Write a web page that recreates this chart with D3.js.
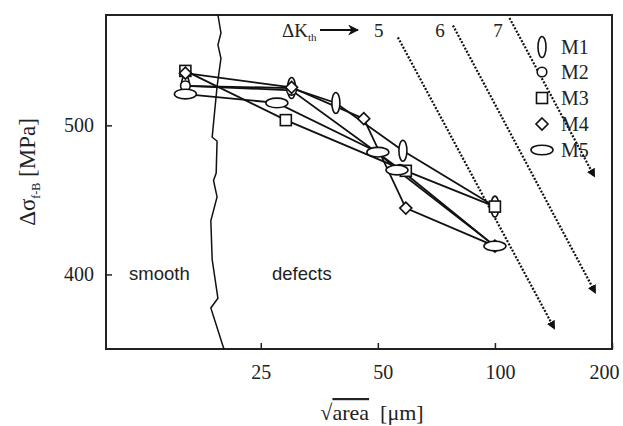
<!DOCTYPE html>
<html>
<head>
<meta charset="utf-8">
<script src="https://cdn.jsdelivr.net/npm/d3@7"></script>
<style>
	body { margin: 0; background: #fff; }
</style>
</head>
<body>
<div class="chart"></div>
<script>
// ---- data ----
var sizeTicks = [25, 50, 100, 200];
var stressTicks = [400, 500];
var seriesNames = ['M1', 'M2', 'M3', 'M4', 'M5'];
var seriesShapes = ['vell', 'circle', 'square', 'diamond', 'hell'];

var m1 = [[16, 526.5], [30, 525], [39, 515], [58, 483], [100, 445.5]];
var m2 = [[16, 526.5], [30, 523.5], [57, 470.5], [100, 419]];
var m3 = [[16, 536.5], [29, 503.5], [59, 469.5], [100, 445.5]];
var m4 = [[16, 535], [30, 525.5], [46, 504.5], [59, 444.5], [100, 419]];
var m5 = [[16, 521], [27.5, 515], [50, 482], [56, 470], [100, 419]];

// smooth / defects border
var boundary = [[19.4, 574], [19.75, 562], [19.4, 554], [19.75, 545], [19.3, 526], [18.75, 492],
	[19.3, 489.5], [19.2, 468], [18.9, 463], [19.3, 452], [18.6, 436], [18.75, 410],
	[19.4, 384], [18.6, 377.5], [20.1, 350]];

// threshold lines dK_th = 5, 6, 7
var kthLabels = ['5', '6', '7'];
var kthStart = [[56.3, 559], [78, 567], [109, 572]];
var kthEnd = [[142, 364], [181, 388], [180, 466]];
var kthLabelAt = [[50.3, 564], [72.2, 564], [101.8, 564]];

var drawChart = function(){
	var w = 623;
	var h = 426;
	var left = 106, right = 612, top = 15, bottom = 349;
	var serif = '"Liberation Serif", "Times New Roman", serif';
	var sans = '"Liberation Sans", Arial, sans-serif';
	var ink = '#111';

	var svg = d3.select('.chart').append('svg')
		.attr('width', w)
		.attr('height', h);

	var x = d3.scaleLog().domain([10, 200]).range([left, right]);
	var y = d3.scaleLinear().domain([350, 574]).range([bottom, top]);

	var defs = svg.append('defs');
	defs.append('marker')
		.attr('id', 'dotHead')
		.attr('viewBox', '0 0 10 10')
		.attr('refX', 8).attr('refY', 5)
		.attr('markerWidth', 4).attr('markerHeight', 4)
		.attr('markerUnits', 'strokeWidth')
		.attr('orient', 'auto')
		.append('path').attr('d', 'M0,0 L10,5 L0,10 Z').attr('fill', ink);
	defs.append('marker')
		.attr('id', 'kHead')
		.attr('viewBox', '0 0 10 10')
		.attr('refX', 9).attr('refY', 5)
		.attr('markerWidth', 5).attr('markerHeight', 5)
		.attr('markerUnits', 'strokeWidth')
		.attr('orient', 'auto')
		.append('path').attr('d', 'M0,0 L10,5 L0,10 L3,5 Z').attr('fill', ink);

	/*---------------------------AXES--------------------------*/

	svg.append('rect')
		.attr('x', left).attr('y', top)
		.attr('width', right - left).attr('height', bottom - top)
		.attr('fill', 'none')
		.attr('stroke', '#222')
		.attr('stroke-width', 2);

	var xAxis = svg.append('g')
		.attr('transform', 'translate(0,' + bottom + ')')
		.call(d3.axisBottom(x).tickValues(sizeTicks).tickSize(-6).tickPadding(16).tickFormat(d3.format('d')));
	xAxis.select('.domain').remove();
	xAxis.selectAll('line').attr('stroke', '#222').attr('stroke-width', 1.5);
	xAxis.selectAll('text').attr('font-family', serif).attr('font-size', 20).attr('fill', '#222')
		.attr('dx', function(d){ return d === 200 ? -8 : (d === 25 ? 0 : 5); });

	var yAxis = svg.append('g')
		.attr('transform', 'translate(' + left + ',0)')
		.call(d3.axisLeft(y).tickValues(stressTicks).tickSize(-6).tickPadding(12).tickFormat(d3.format('d')));
	yAxis.select('.domain').remove();
	yAxis.selectAll('line').attr('stroke', '#222').attr('stroke-width', 1.5);
	yAxis.selectAll('text').attr('font-family', serif).attr('font-size', 20).attr('fill', '#222');

	// axis titles
	var xt = svg.append('text')
		.attr('x', 372).attr('y', 420)
		.attr('text-anchor', 'middle')
		.attr('font-family', serif).attr('font-size', 22).attr('fill', '#222');
	xt.append('tspan').text('\u221A');
	xt.append('tspan').text('area').style('text-decoration', 'overline');
	xt.append('tspan').text('\u00A0 [\u03BCm]');

	var yt = svg.append('text')
		.attr('transform', 'translate(35,172) rotate(-90)')
		.attr('text-anchor', 'middle')
		.attr('font-family', serif).attr('font-size', 23).attr('fill', '#222');
	yt.append('tspan').text('\u0394\u03C3');
	yt.append('tspan').text('f-B').attr('font-size', 12).attr('dy', 5);
	yt.append('tspan').text(' [MPa]').attr('dy', -5);

	/*---------------------------REGIONS--------------------------*/

	var line = d3.line().x(function(d){ return x(d[0]); }).y(function(d){ return y(d[1]); });

	svg.append('path')
		.attr('d', line(boundary))
		.attr('fill', 'none')
		.attr('stroke', ink)
		.attr('stroke-width', 1.5);

	svg.append('text').attr('x', 129).attr('y', 280)
		.attr('font-family', sans).attr('font-size', 18.5).attr('fill', '#222')
		.text('smooth');
	svg.append('text').attr('x', 272).attr('y', 280)
		.attr('font-family', sans).attr('font-size', 18.5).attr('fill', '#222')
		.text('defects');

	/*---------------------------THRESHOLD LINES--------------------------*/

	svg.selectAll('.kth').data(kthLabels).enter()
		.append('line')
		.attr('class', 'kth')
		.attr('x1', function(d, i){ return x(kthStart[i][0]); })
		.attr('y1', function(d, i){ return y(kthStart[i][1]); })
		.attr('x2', function(d, i){ return x(kthEnd[i][0]); })
		.attr('y2', function(d, i){ return y(kthEnd[i][1]); })
		.attr('stroke', ink)
		.attr('stroke-width', 2.2)
		.attr('stroke-dasharray', '2,1.6')
		.attr('marker-end', 'url(#dotHead)');

	svg.selectAll('.kthLabel').data(kthLabels).enter()
		.append('text')
		.attr('class', 'kthLabel')
		.attr('x', function(d, i){ return x(kthLabelAt[i][0]); })
		.attr('y', function(d, i){ return y(kthLabelAt[i][1]) + 7; })
		.attr('text-anchor', 'middle')
		.attr('font-family', serif).attr('font-size', 19).attr('fill', '#222')
		.text(function(d){ return d; });

	var kt = svg.append('text')
		.attr('x', 282).attr('y', 37)
		.attr('font-family', serif).attr('font-size', 19).attr('fill', '#222');
	kt.append('tspan').text('\u0394K');
	kt.append('tspan').text('th').attr('font-size', 11).attr('dy', 4);

	svg.append('line')
		.attr('x1', 320).attr('y1', 30).attr('x2', 358).attr('y2', 30)
		.attr('stroke', ink).attr('stroke-width', 2.2)
		.attr('marker-end', 'url(#kHead)');

	/*---------------------------SERIES--------------------------*/

	var allSeries = [m1, m2, m3, m4, m5];

	svg.selectAll('.series').data(allSeries).enter()
		.append('path')
		.attr('class', 'series')
		.attr('d', line)
		.attr('fill', 'none')
		.attr('stroke', ink)
		.attr('stroke-width', 1.8);

	var drawMarker = function(g, shape){
		if (shape === 'vell') {
			g.append('ellipse').attr('rx', 4).attr('ry', 10.5);
		} else if (shape === 'hell') {
			g.append('ellipse').attr('rx', 11).attr('ry', 4.8);
		} else if (shape === 'circle') {
			g.append('circle').attr('r', 4.8);
		} else if (shape === 'square') {
			g.append('rect').attr('x', -5.5).attr('y', -5.5).attr('width', 11).attr('height', 11);
		} else {
			g.append('path').attr('d', 'M0,-6 L6,0 L0,6 L-6,0 Z');
		}
	};

	allSeries.forEach(function(s, k){
		s.forEach(function(p){
			var g = svg.append('g')
				.attr('transform', 'translate(' + x(p[0]) + ',' + y(p[1]) + ')')
				.attr('fill', '#fff')
				.attr('stroke', ink)
				.attr('stroke-width', 1.6);
			drawMarker(g, seriesShapes[k]);
		});
	});

	/*---------------------------LEGEND--------------------------*/

	var legendY = [47, 72, 98, 124, 150];
	seriesNames.forEach(function(name, k){
		var g = svg.append('g')
			.attr('transform', 'translate(542,' + legendY[k] + ')')
			.attr('fill', '#fff')
			.attr('stroke', ink)
			.attr('stroke-width', 1.6);
		drawMarker(g, seriesShapes[k]);
		svg.append('text')
			.attr('x', 561).attr('y', legendY[k] + 7)
			.attr('font-family', serif).attr('font-size', 20).attr('fill', '#222')
			.text(name);
	});
}();
</script>
</body>
</html>
